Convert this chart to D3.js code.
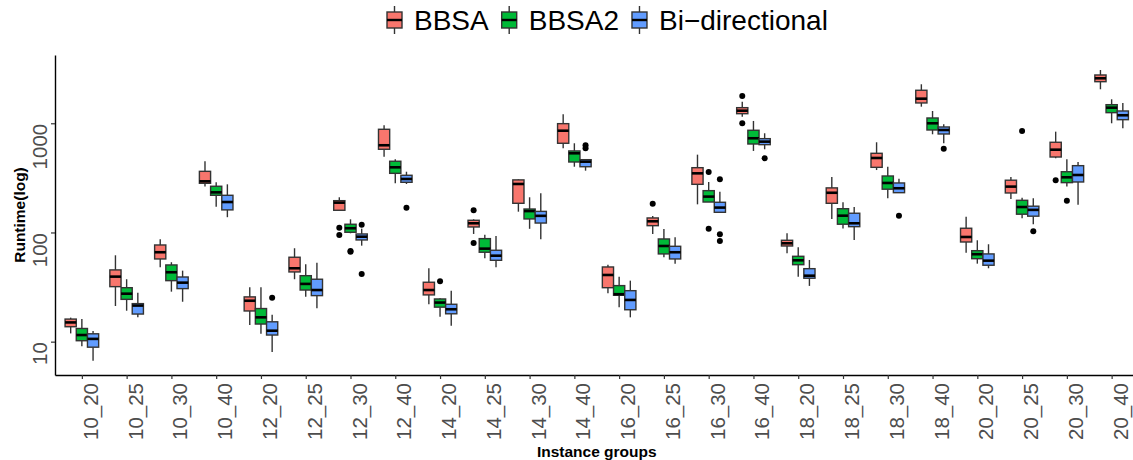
<!DOCTYPE html>
<html>
<head>
<meta charset="utf-8">
<script src="https://cdn.jsdelivr.net/npm/d3@7"></script>
<style>
  body { margin: 0; background: #fff; }
  text { font-family: "Liberation Sans", Arial, Helvetica, sans-serif; }
</style>
</head>
<body>
<div id="chart"></div>
<script>
const groups = ["10_20", "10_25", "10_30", "10_40", "12_20", "12_25", "12_30", "12_40",
    "14_20", "14_25", "14_30", "14_40", "16_20", "16_25", "16_30", "16_40",
    "18_20", "18_25", "18_30", "18_40", "20_20", "20_25", "20_30", "20_40"];

const seriesNames = ["BBSA", "BBSA2", "Bi\u2212directional"];
const seriesColors = ["#F8766D", "#00BA38", "#619CFF"];

// [lower whisker, q1, median, q3, upper whisker] per group
const bbsaStats = [
    [11.9, 13.7, 15.0, 16.1, 16.6], [21.2, 31.9, 39.4, 45.4, 61.8], [48.0, 57.2, 65.9, 76.8, 86.6], [263, 282, 294, 363, 449],
    [14.2, 19.1, 23.7, 25.7, 31.5], [37.3, 43.5, 47.0, 59.3, 71.7], [159.7, 159.7, 187.5, 195.5, 210], [494, 578, 629, 881, 959],
    [22.0, 26.8, 29.7, 35.0, 47.0], [96.9, 112.3, 121.4, 129.3, 132], [155, 185, 278, 303, 307], [590, 656, 855, 992, 1209],
    [27.7, 31.2, 40.8, 48.3, 50.7], [96.9, 115.4, 126.6, 135.8, 141.6], [181, 276, 348, 392, 516], [1149, 1224, 1304, 1390, 1577],
    [64.5, 75.2, 79.6, 84.8, 98.3], [133, 185, 231, 256, 322], [373, 395, 481, 531, 670], [1419, 1535, 1680, 2006, 2276],
    [65.3, 81.8, 90.9, 109.3, 139.5], [203, 230, 263, 301, 322], [478, 491, 573, 670, 838], [2048, 2404, 2583, 2769, 3076]
];
const bbsa2Stats = [
    [9.1, 10.2, 11.5, 13.2, 16.1], [19.2, 24.4, 27.5, 31.2, 37.3], [28.7, 36.2, 43.2, 50.4, 53.4], [172, 219, 233, 265, 288],
    [11.8, 14.5, 16.7, 20.1, 31.5], [25.8, 29.7, 33.8, 40.2, 51.1], [98.3, 100.4, 109.3, 118.9, 132], [282, 348, 395, 449, 468],
    [16.9, 20.7, 22.8, 24.6, 25.0], [58.0, 65.9, 71.1, 87.8, 95.5], [108, 133, 157, 164, 210], [400, 442, 531, 558, 656],
    [20.7, 26.6, 27.2, 32.6, 39.4], [59.3, 63.6, 75.2, 87.2, 107.7], [190, 190, 213, 241.5, 290], [558, 646, 729, 863, 1050],
    [39.4, 50.7, 55.6, 60.5, 73.2], [109, 119, 142.5, 165, 189], [206, 249, 284, 329, 400], [793, 868, 1000, 1118, 1296],
    [51.8, 57.5, 63.2, 68.1, 84.8], [135, 147, 171, 197, 208], [263, 286, 320, 360, 468], [1000, 1251, 1390, 1480, 1659]
];
const bidirStats = [
    [6.7, 8.9, 10.6, 11.8, 12.5], [16.7, 17.9, 21.4, 22.3, 28.1], [23.2, 30.6, 34.7, 39.1, 44.7], [138, 161, 190, 219, 276],
    [8.05, 11.5, 12.6, 15.2, 17.6], [20.2, 26.4, 29.7, 37.3, 52.9], [75.7, 85.4, 91.5, 96.9, 108.3], [278, 288, 309, 334, 360],
    [14.0, 18.0, 19.8, 22.0, 29.3], [48.0, 55.6, 61.3, 68.7, 92.9], [86.6, 122, 142, 156, 229], [368, 400, 445, 464, 468],
    [16.7, 19.6, 24.1, 29.3, 36.2], [51.8, 57.2, 65.9, 74.7, 90.4], [153, 153, 169, 189, 236], [578, 637, 679, 723, 810],
    [32.4, 38.1, 40.2, 46.6, 56.0], [85.4, 113, 121.4, 150, 171], [231, 231.4, 254, 284, 311], [656, 798, 868, 925, 979],
    [47.0, 50.1, 55.2, 63.6, 78], [119, 141, 161, 174, 206], [179, 290, 336, 409, 442], [900, 1079, 1184, 1296, 1535]
];

// outliers per group
const bbsaOutliers = [[], [], [], [], [], [], [110.7, 94.9], [], [], [159.7, 80.1], [], [],
    [], [183.5], [], [1778, 1000], [], [], [], [], [], [], [300], []];
const bbsa2Outliers = [[], [], [], [], [], [], [67.7, 66.5], [], [35.7], [], [], [],
    [], [], [358, 108], [], [], [], [], [], [], [850], [195.5], []];
const bidirOutliers = [[], [], [], [], [25.3], [], [117.9, 41.7], [168.7], [], [], [], [630, 590],
    [], [], [307, 96.3, 83.4], [478], [], [], [142.5], [585], [], [102.6], [], []];

const yTicks = [10, 100, 1000];

const allStats = [bbsaStats, bbsa2Stats, bidirStats];
const allOutliers = [bbsaOutliers, bbsa2Outliers, bidirOutliers];

const W = 1133, H = 460;
const margin = { top: 55, left: 55, bottom: 85 };
const plotRight = 1138.5;

const svg = d3.select("#chart").append("svg")
    .attr("width", W)
    .attr("height", H);

const x = d3.scalePoint().domain(groups).range([margin.left, plotRight]).padding(0.6);
const step = x.step();
const dodge = d3.scaleBand().domain(seriesNames).range([-0.375 * step, 0.375 * step]);
const bw = dodge.bandwidth();

const y = d3.scaleLog().domain([4.95, 4220]).range([H - margin.bottom, margin.top]);

// boxes
seriesNames.forEach((name, s) => {
    const g = svg.append("g").attr("class", "series");
    allStats[s].forEach((st, i) => {
        const cx = x(groups[i]) + dodge(name) + bw / 2;
        const left = cx - bw / 2;
        g.append("line")
            .attr("x1", cx).attr("x2", cx)
            .attr("y1", y(st[4])).attr("y2", y(st[3]))
            .attr("stroke", "#333").attr("stroke-width", 1.4);
        g.append("line")
            .attr("x1", cx).attr("x2", cx)
            .attr("y1", y(st[1])).attr("y2", y(st[0]))
            .attr("stroke", "#333").attr("stroke-width", 1.4);
        g.append("rect")
            .attr("x", left)
            .attr("y", y(st[3]))
            .attr("width", bw)
            .attr("height", Math.max(0.5, y(st[1]) - y(st[3])))
            .attr("fill", seriesColors[s])
            .attr("stroke", "#333")
            .attr("stroke-width", 1.4);
        g.append("line")
            .attr("x1", left).attr("x2", left + bw)
            .attr("y1", y(st[2])).attr("y2", y(st[2]))
            .attr("stroke", "#000").attr("stroke-width", 2.6);
        allOutliers[s][i].forEach(v => {
            g.append("circle")
                .attr("cx", cx)
                .attr("cy", y(v))
                .attr("r", 3)
                .attr("fill", "#000");
        });
    });
});

// axes
const yAxis = svg.append("g")
    .attr("transform", `translate(${margin.left},0)`)
    .call(d3.axisLeft(y).tickValues(yTicks).tickSize(4).tickSizeOuter(0).tickFormat(d3.format("d")));
yAxis.select(".domain").attr("stroke", "#000").attr("stroke-width", 1.4);
yAxis.selectAll(".tick line").attr("stroke", "#333").attr("stroke-width", 1.2);
yAxis.selectAll(".tick text")
    .attr("x", null).attr("dy", null)
    .attr("transform", "translate(-8,0) rotate(-90)")
    .attr("text-anchor", "end")
    .attr("fill", "#4d4d4d")
    .style("font-size", "20.5px")
    .style("font-family", "'Liberation Sans', Arial, sans-serif");

const xAxis = svg.append("g")
    .attr("transform", `translate(0,${H - margin.bottom})`)
    .call(d3.axisBottom(x).tickSize(4).tickSizeOuter(0));
xAxis.select(".domain").attr("stroke", "#000").attr("stroke-width", 1.4);
xAxis.selectAll(".tick line").attr("stroke", "#333").attr("stroke-width", 1.2);
xAxis.selectAll(".tick text")
    .attr("y", null).attr("dy", null)
    .attr("transform", "translate(15.5,8) rotate(-90)")
    .attr("text-anchor", "end")
    .attr("fill", "#4d4d4d")
    .style("font-size", "20.5px")
    .style("font-family", "'Liberation Sans', Arial, sans-serif");

// axis titles
svg.append("text")
    .attr("transform", `translate(25,${(margin.top + H - margin.bottom) / 2}) rotate(-90)`)
    .attr("text-anchor", "middle")
    .style("font-size", "15.5px")
    .style("font-weight", "bold")
    .text("Runtime(log)");

svg.append("text")
    .attr("x", (margin.left + plotRight) / 2)
    .attr("y", 457)
    .attr("text-anchor", "middle")
    .style("font-size", "15.5px")
    .style("font-weight", "bold")
    .text("Instance groups");

// legend
const legend = svg.append("g").attr("class", "legend");
let lx = 387;
seriesNames.forEach((name, s) => {
    const kw = 15;
    legend.append("line")
        .attr("x1", lx + kw / 2).attr("x2", lx + kw / 2)
        .attr("y1", 6).attr("y2", 34)
        .attr("stroke", "#333").attr("stroke-width", 1.4);
    legend.append("rect")
        .attr("x", lx).attr("y", 12)
        .attr("width", kw).attr("height", 16)
        .attr("fill", seriesColors[s])
        .attr("stroke", "#333").attr("stroke-width", 1.4);
    legend.append("line")
        .attr("x1", lx).attr("x2", lx + kw)
        .attr("y1", 20).attr("y2", 20)
        .attr("stroke", "#000").attr("stroke-width", 2.4);
    const t = legend.append("text")
        .attr("x", lx + kw + 12)
        .attr("y", 30)
        .style("font-size", "28px")
        .text(name);
    lx += kw + 12 + t.node().getComputedTextLength() + 13;
});
</script>
</body>
</html>
